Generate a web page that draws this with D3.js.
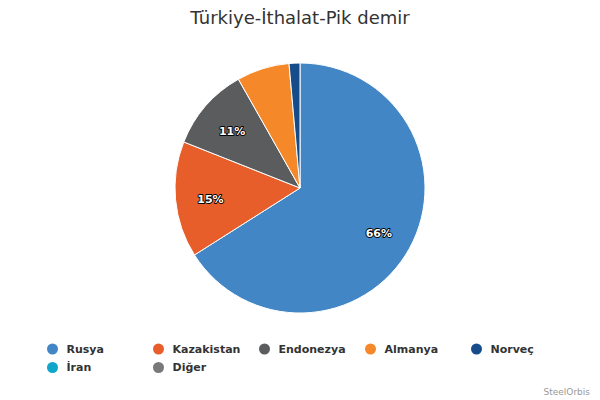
<!DOCTYPE html>
<html>
<head>
<meta charset="utf-8">
<script src="https://cdn.jsdelivr.net/npm/d3@7"></script>
<style>
  body { margin: 0; background: #fff; }
  svg { font-family: "DejaVu Sans", sans-serif; }
</style>
</head>
<body>
<div id="chart"></div>
<script>
const countries = ['Rusya', 'Kazakistan', 'Endonezya', 'Almanya', 'Norveç', 'İran', 'Diğer'];
const shares = [66.0, 15.0, 10.8, 6.8, 1.4, 0, 0];
const colors = ['#4286c5', '#e85e2b', '#5b5c5e', '#f5892a', '#164c8a', '#0fa6c9', '#78797b'];

const width = 600, height = 400;
const cx = 300, cy = 188, radius = 125;

const svg = d3.select('#chart').append('svg')
  .attr('width', width)
  .attr('height', height);

svg.append('text')
  .attr('x', width / 2)
  .attr('y', 24)
  .attr('text-anchor', 'middle')
  .attr('fill', '#333')
  .style('font-size', '18px')
  .text('Türkiye-İthalat-Pik demir');

const data = countries.map((name, i) => ({ name, value: shares[i], color: colors[i] }));

const pie = d3.pie().sort(null).value(d => d.value);
const arc = d3.arc().innerRadius(0).outerRadius(radius);
const labelArc = d3.arc().innerRadius(radius * 0.72).outerRadius(radius * 0.72);

const g = svg.append('g').attr('transform', `translate(${cx},${cy})`);
const arcs = pie(data);

g.selectAll('path')
  .data(arcs.filter(d => d.data.value > 0))
  .enter().append('path')
  .attr('d', arc)
  .attr('fill', d => d.data.color)
  .attr('stroke', '#fff')
  .attr('stroke-width', 1);

// only the bigger slices get a label
g.selectAll('text.label')
  .data(arcs.filter(d => d.data.value >= 10))
  .enter().append('text')
  .attr('class', 'label')
  .attr('transform', d => `translate(${labelArc.centroid(d)})`)
  .attr('text-anchor', 'middle')
  .attr('dy', '0.55em')
  .attr('fill', '#fff')
  .attr('stroke', '#000')
  .attr('stroke-width', 1.8)
  .attr('stroke-linejoin', 'round')
  .attr('paint-order', 'stroke')
  .style('font-size', '11px')
  .style('font-weight', 'bold')
  .text(d => Math.round(d.data.value) + '%');

// legend: 5 items per row
const perRow = 5;
const legend = svg.append('g');
const item = legend.selectAll('g')
  .data(data)
  .enter().append('g')
  .attr('transform', (d, i) => `translate(${52.5 + (i % perRow) * 106},${349 + Math.floor(i / perRow) * 18.5})`);

item.append('circle')
  .attr('r', 5.5)
  .attr('fill', d => d.color);

item.append('text')
  .attr('x', 14)
  .attr('dy', '0.35em')
  .attr('fill', '#333')
  .style('font-size', '11px')
  .style('font-weight', 'bold')
  .text(d => d.name);

svg.append('text')
  .attr('x', 590)
  .attr('y', 395)
  .attr('text-anchor', 'end')
  .attr('fill', '#999')
  .style('font-size', '9px')
  .text('SteelOrbis');
</script>
</body>
</html>
